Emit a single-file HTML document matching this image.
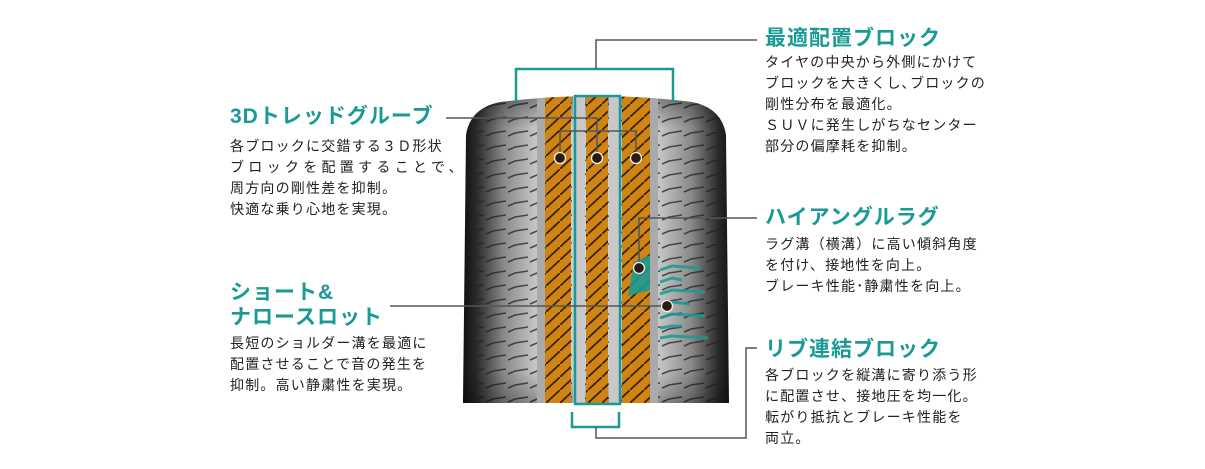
<!DOCTYPE html>
<html><head><meta charset="utf-8"><style>
html,body{margin:0;padding:0;background:#fff;}
body{width:1205px;height:469px;position:relative;overflow:hidden;font-family:"Liberation Sans","Noto Sans CJK JP",sans-serif;}
.t{position:absolute;color:#1a9a94;font-weight:bold;font-size:21px;line-height:25px;white-space:nowrap;letter-spacing:1px}
.b{position:absolute;color:#222;font-size:14px;line-height:21px;white-space:nowrap;letter-spacing:1.2px}
svg{position:absolute;left:0;top:0}
</style></head><body>
<svg width="1205" height="469" viewBox="0 0 1205 469">
<defs>
<linearGradient id="g" x1="0" x2="1" y1="0" y2="0">
<stop offset="0" stop-color="#0a0a0a"/><stop offset="0.06" stop-color="#2a2a2a"/><stop offset="0.16" stop-color="#8a8a8a"/><stop offset="0.28" stop-color="#c8c8c8"/><stop offset="0.5" stop-color="#d4d4d4"/><stop offset="0.72" stop-color="#c8c8c8"/><stop offset="0.84" stop-color="#8a8a8a"/><stop offset="0.94" stop-color="#2a2a2a"/><stop offset="1" stop-color="#0a0a0a"/>
</linearGradient>
<linearGradient id="v" x1="0" x2="0" y1="0" y2="1">
<stop offset="0" stop-color="#000" stop-opacity="0.45"/><stop offset="0.12" stop-color="#000" stop-opacity="0"/><stop offset="0.88" stop-color="#000" stop-opacity="0"/><stop offset="1" stop-color="#000" stop-opacity="0.35"/>
</linearGradient>
<pattern id="tr" width="22" height="14" patternUnits="userSpaceOnUse">
<path d="M2 10 L9 7 L22 5" stroke="#222" stroke-width="1.5" fill="none"/>
</pattern>
<pattern id="or" width="14" height="13" patternUnits="userSpaceOnUse">
<rect width="14" height="13" fill="#d08412"/>
<path d="M0 13 L14 0" stroke="#3a2305" stroke-width="1.8"/>
</pattern>
<clipPath id="cp"><path d="M466 135 Q470 108 500 102 Q550 96 596 96 Q642 96 692 102 Q722 108 726 135 L729 403 L463 403 Z"/></clipPath>
</defs>
<g clip-path="url(#cp)">
<rect x="460" y="90" width="275" height="320" fill="url(#g)"/>
<rect x="475" y="90" width="245" height="320" fill="url(#tr)" opacity="0.75"/>
<rect x="460" y="90" width="275" height="320" fill="url(#v)"/>
<rect x="537" y="90" width="8" height="315" fill="#aaa"/>
<rect x="650" y="90" width="8" height="315" fill="#aaa"/>
<rect x="545" y="90" width="26" height="315" fill="url(#or)"/>
<rect x="586" y="90" width="22" height="315" fill="url(#or)"/>
<rect x="622" y="90" width="28" height="315" fill="url(#or)"/>
<rect x="573" y="90" width="12" height="315" fill="#c8c8c8"/>
<rect x="609" y="90" width="12" height="315" fill="#c8c8c8"/>
</g>
<rect x="575" y="96" width="45" height="308" fill="none" stroke="#1a9a94" stroke-width="2.5"/>
<path d="M634 262 L650 255 L650 290 L628 296 Z" fill="#1a9a94" opacity="0.9"/>
<g stroke="#1a9a94" stroke-width="3" fill="none" opacity="0.85">
<path d="M660 270 L672 266 L700 268"/><path d="M660 282 L672 278 L682 280"/><path d="M660 294 L672 290 L705 292"/><path d="M660 306 L672 302 L690 304"/><path d="M660 318 L672 314 L705 316"/><path d="M660 328 L672 326 L682 326"/><path d="M660 338 L672 336 L708 338"/>
</g>
<g stroke="#1a9a94" stroke-width="2.5" fill="none">
<path d="M516 102 L516 69 L673 69 L673 102"/>
<path d="M572 412 L572 427 L619 427 L619 412"/>
</g>
<g stroke="#555" stroke-width="1.5" fill="none">
<path d="M596 69 L596 40 L757 40"/>
<path d="M596 427 L596 438 L746 438 L746 348 L757 348"/>
<path d="M446 118 L597 118 L597 158"/>
<path d="M560 158 L560 131 L636 131 L636 158"/>
<path d="M757 218 L639 218 L639 268"/>
<path d="M390 306 L667 306"/>
</g>
<g fill="#2a1a10" stroke="#eee" stroke-width="1.3">
<circle cx="560" cy="158" r="5.5"/><circle cx="597" cy="158" r="5.5"/><circle cx="636" cy="158" r="5.5"/><circle cx="639" cy="268" r="5.5"/><circle cx="667" cy="306" r="5.5"/>
</g>
</svg>
<div class="t" style="left:230px;top:104px">3Dトレッドグルーブ</div>
<div class="b" style="left:230px;top:136px">各ブロックに交錯する３Ｄ形状<br><span style="letter-spacing:4.3px">ブロックを配置することで、</span><br>周方向の剛性差を抑制。<br>快適な乗り心地を実現。</div>
<div class="t" style="left:765px;top:26px">最適配置ブロック</div>
<div class="b" style="left:765px;top:52px">タイヤの中央から外側にかけて<br>ブロックを大きくし､ブロックの<br>剛性分布を最適化。<br>ＳＵＶに発生しがちなセンター<br>部分の偏摩耗を抑制。</div>
<div class="t" style="left:765px;top:205px">ハイアングルラグ</div>
<div class="b" style="left:765px;top:234px">ラグ溝（横溝）に高い傾斜角度<br>を付け、接地性を向上。<br>ブレーキ性能･静粛性を向上。</div>
<div class="t" style="left:230px;top:280px">ショート&amp;<br>ナロースロット</div>
<div class="b" style="left:230px;top:333px">長短のショルダー溝を最適に<br>配置させることで音の発生を<br>抑制。高い静粛性を実現。</div>
<div class="t" style="left:765px;top:337px">リブ連結ブロック</div>
<div class="b" style="left:765px;top:365px">各ブロックを縦溝に寄り添う形<br>に配置させ、接地圧を均一化。<br>転がり抵抗とブレーキ性能を<br>両立。</div>
</body></html>
